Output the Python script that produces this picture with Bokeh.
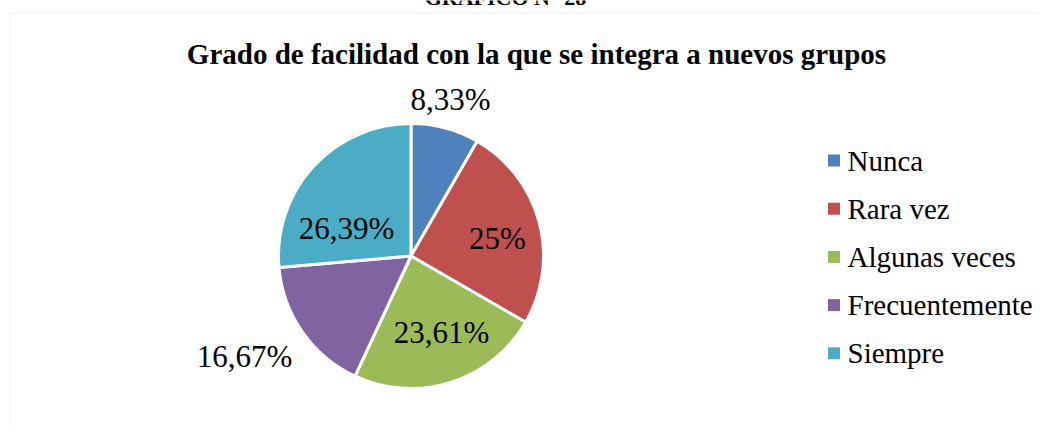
import math
from bokeh.plotting import figure
from bokeh.models import ColumnDataSource, BoxAnnotation
from bokeh.core.properties import value
from bokeh.embed import file_html
from bokeh.resources import INLINE

# ---- data ----
header = "GRÁFICO N° 28"
title = "Grado de facilidad con la que se integra a nuevos grupos"
categories = ["Nunca", "Rara vez", "Algunas veces", "Frecuentemente", "Siempre"]
values = [8.33, 25.0, 23.61, 16.67, 26.39]
labels = ["8,33%", "25%", "23,61%", "16,67%", "26,39%"]
colors = ["#4F81BD", "#C0504D", "#9BBB59", "#8064A2", "#4BACC6"]
# label offsets from pie centre (px)
label_dx = [39.5, 86.5, 30.5, -166.5, -64.5]
label_dy = [156.5, 17.5, -76.5, -100.5, 27.5]

W, H = 1039, 428
FONT = "Liberation Serif"

p = figure(width=W, height=H, x_range=(0, W), y_range=(0, H),
           output_backend="svg", toolbar_location=None, min_border=0)
p.axis.visible = False
p.grid.visible = False
p.outline_line_color = None
p.background_fill_color = "white"

# chart frame
p.add_layout(BoxAnnotation(left=10, right=W + 50, top=H - 12.5, bottom=-50,
                           fill_color=None, line_color="#D9D9D9", line_width=1.5))

# page header (cut at top)
p.text(x=[505], y=[H - 2], text=[header], text_font=value(FONT), text_font_size="22px",
       text_font_style="bold", text_align="center", text_baseline="middle",
       y_offset=-5, text_color="black")

cx, cy, r = 410.5, H - 255.5, 132.5
total = sum(values)
starts, ends = [], []
cum = 0.0
for v in values:
    a0 = math.pi / 2 - 2 * math.pi * cum / total
    cum += v
    a1 = math.pi / 2 - 2 * math.pi * cum / total
    starts.append(a1)
    ends.append(a0)

src = ColumnDataSource(dict(start=starts, end=ends, color=colors, cat=categories))
p.wedge(x=cx, y=cy, radius=r, start_angle="start", end_angle="end",
        fill_color="color", line_color="white", line_width=3, source=src)

lsrc = ColumnDataSource(dict(x=[cx + d for d in label_dx], y=[cy + d for d in label_dy], t=labels))
p.text(x="x", y="y", text="t", source=lsrc, text_font=value(FONT),
       text_font_size="31px", text_align="center", text_baseline="middle", text_color="black")

# title
p.text(x=[536], y=[H - 53], text=[title], text_font=value(FONT), text_font_size="29px",
       text_font_style="bold", text_align="center", text_baseline="middle", text_color="black")

# legend
lx, ly0, lstep = 833.5, H - 160, 48.2
leg_y = [ly0 - i * lstep for i in range(len(categories))]
p.rect(x=[lx] * len(categories), y=leg_y, width=12, height=12, fill_color=colors, line_color=None)
p.text(x=[lx + 13.5] * len(categories), y=leg_y, text=categories, text_font=value(FONT),
       text_font_size="29px", text_align="left", text_baseline="middle", text_color="black")

open("out.html", "w").write(file_html(p, INLINE))
